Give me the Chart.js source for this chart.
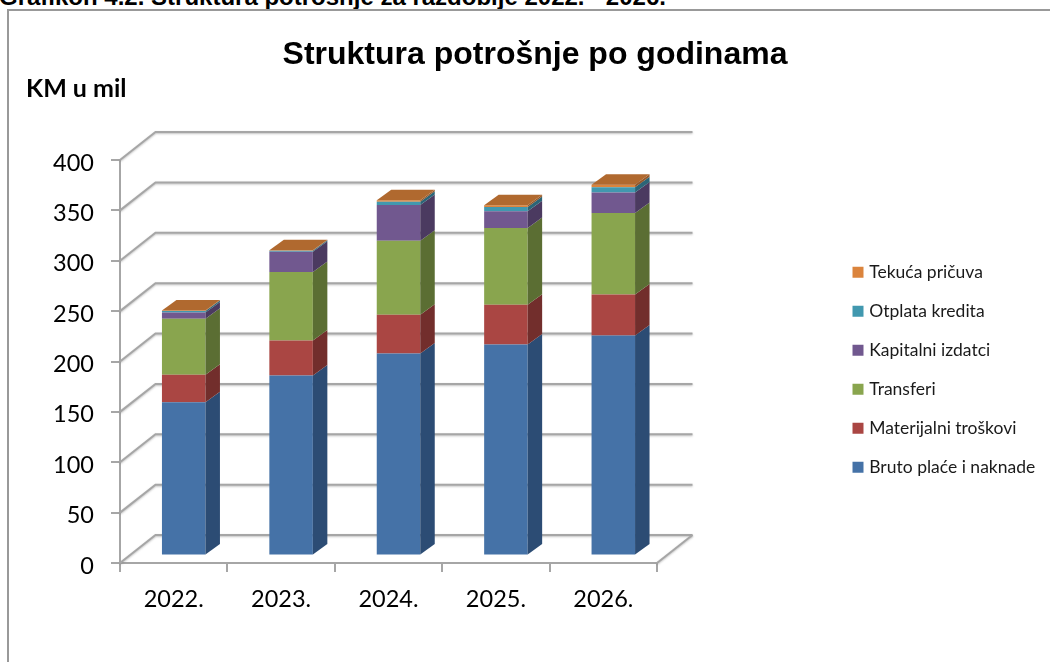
<!DOCTYPE html>
<html lang="hr">
<head>
<meta charset="utf-8">
<title>Struktura potrošnje po godinama</title>
<script src="https://cdn.jsdelivr.net/npm/chart.js@4/dist/chart.umd.min.js"></script>
<style>
html,body{margin:0;padding:0;background:#fff;width:1050px;height:662px;overflow:hidden}
#head{position:absolute;left:-1px;top:-17px;font:bold 24px "Liberation Sans",Arial,sans-serif;color:#000;white-space:nowrap}
#frame{position:absolute;left:7px;top:9px;width:2000px;height:2000px;border:2px solid #999}
canvas{position:absolute;left:8px;top:10px;filter:blur(0.45px)}
</style>
</head>
<body>
<div id="head">Grafikon 4.2. Struktura potrošnje za razdoblje 2022. - 2026.</div>
<div id="frame"></div>
<canvas id="c" width="1054" height="652"></canvas>
<script>
const categories = ["2022.", "2023.", "2024.", "2025.", "2026."];
const brutoPlace = [152, 178.7, 200.5, 209.4, 218.4];
const materijalni = [27.5, 34.7, 38.5, 39.6, 40.6];
const transferi = [55.6, 68, 73.4, 76, 81];
const kapitalni = [6, 20, 35.6, 16.7, 20.3];
const otplata = [1.5, 1, 3, 4.3, 5.3];
const pricuva = [0.7, 0.7, 1.5, 1.7, 2.4];
const seriesNames = ["Bruto plaće i naknade", "Materijalni troškovi", "Transferi", "Kapitalni izdatci", "Otplata kredita", "Tekuća pričuva"];
const seriesValues = [brutoPlace, materijalni, transferi, kapitalni, otplata, pricuva];
const frontColors = ["#4572a7", "#aa4643", "#89a54e", "#71588f", "#4198af", "#db843d"];
const sideColors = ["#2c4c74", "#722e2c", "#5b6e33", "#4b3a60", "#2b6577", "#94582a"];
const topColor = "#b0692f";
const yTicksMax = 400, yStep = 50;

const BAR_SHIFT = {x: 10, y: -7.5};
const DEPTH = {x: 14.5, y: -10.5};
const WALL = {x: 35.5, y: -28};
const GRID = "#a6a6a6";

const threeD = {
  id: "threeD",
  afterLayout(chart) {
    chart.titleBlock.left = 0; chart.titleBlock.right = chart.width; chart.titleBlock.width = chart.width;
    const lg = chart.legend;
    lg.left = 826; lg.right = 1054; lg.top = 232; lg.bottom = 640; lg.height = 408;
  },
  beforeDatasetsDraw(chart) {
    const {ctx, chartArea: a, scales: {y}} = chart;
    ctx.save();
    ctx.strokeStyle = GRID; ctx.lineWidth = 2;
    ctx.shadowColor = "rgba(120,120,120,.45)"; ctx.shadowBlur = 2; ctx.shadowOffsetY = 1;
    y.ticks.forEach(t => {
      const p = y.getPixelForValue(t.value);
      ctx.beginPath();
      ctx.moveTo(a.left, p);
      ctx.lineTo(a.left + WALL.x, p + WALL.y);
      ctx.lineTo(a.right + WALL.x, p + WALL.y);
      ctx.stroke();
    });
    ctx.beginPath();
    ctx.moveTo(a.right, a.bottom);
    ctx.lineTo(a.right + WALL.x, a.bottom + WALL.y);
    ctx.stroke();
    ctx.restore();
    ctx.save();
    ctx.translate(BAR_SHIFT.x, BAR_SHIFT.y);
  },
  afterDatasetsDraw(chart) {
    const {ctx} = chart;
    const last = chart.data.datasets.length - 1;
    chart.data.datasets.forEach((ds, i) => {
      chart.getDatasetMeta(i).data.forEach(bar => {
        const r = bar.x + bar.width / 2, l = bar.x - bar.width / 2;
        ctx.fillStyle = sideColors[i];
        ctx.beginPath();
        ctx.moveTo(r, bar.y);
        ctx.lineTo(r + DEPTH.x, bar.y + DEPTH.y);
        ctx.lineTo(r + DEPTH.x, bar.base + DEPTH.y);
        ctx.lineTo(r, bar.base);
        ctx.closePath();
        ctx.fill();
        if (i === last) {
          ctx.fillStyle = topColor;
          ctx.beginPath();
          ctx.moveTo(l, bar.y);
          ctx.lineTo(l + DEPTH.x, bar.y + DEPTH.y);
          ctx.lineTo(r + DEPTH.x, bar.y + DEPTH.y);
          ctx.lineTo(r, bar.y);
          ctx.closePath();
          ctx.fill();
        }
      });
    });
    ctx.restore();
  },
  afterDraw(chart) {
    const {ctx} = chart;
    ctx.save();
    ctx.font = "bold 25px Lato, sans-serif";
    ctx.fillStyle = "#000";
    ctx.textBaseline = "alphabetic";
    ctx.fillText("KM u mil", 18, 87);
    ctx.restore();
  }
};

new Chart(document.getElementById("c"), {
  type: "bar",
  data: {
    labels: categories,
    datasets: seriesNames.map((n, i) => ({
      label: n,
      data: seriesValues[i],
      backgroundColor: frontColors[i],
      borderWidth: 0,
      barPercentage: 0.405,
      categoryPercentage: 1,
      clip: false
    }))
  },
  plugins: [threeD],
  options: {
    responsive: false,
    animation: false,
    layout: {padding: {left: 12, right: 405, top: 0, bottom: 39}},
    plugins: {
      tooltip: {enabled: false},
      title: {
        display: true,
        text: "Struktura potrošnje po godinama",
        color: "#000",
        font: {family: '"Liberation Sans", Arial, sans-serif', size: 32, weight: "bold"},
        padding: {top: 25.8, bottom: 85.8}
      },
      legend: {
        position: "chartArea",
        align: "start",
        reverse: true,
        labels: {
          usePointStyle: true,
          pointStyle: "rect",
          boxWidth: 5,
          boxHeight: 11,
          padding: 21.5,
          color: "#1a1a1a",
          font: {family: "Lato, sans-serif", size: 17.5}
        }
      }
    },
    scales: {
      x: {
        stacked: true,
        afterFit(s) { s.height = 60; },
        grid: {drawOnChartArea: false, drawTicks: true, tickLength: 9, color: GRID, lineWidth: 2},
        border: {display: true, color: GRID, width: 2},
        ticks: {color: "#000", padding: 13, font: {family: "Lato, sans-serif", size: 23.5}, maxRotation: 0}
      },
      y: {
        stacked: true,
        min: 0,
        max: yTicksMax,
        afterFit(s) { s.width = 100; },
        grid: {drawOnChartArea: false, drawTicks: true, tickLength: 9, color: GRID, lineWidth: 2},
        border: {display: true, color: GRID, width: 2},
        ticks: {stepSize: yStep, color: "#000", padding: 17, labelOffset: 3, font: {family: "Lato, sans-serif", size: 23.5}}
      }
    }
  }
});
</script>
</body>
</html>
